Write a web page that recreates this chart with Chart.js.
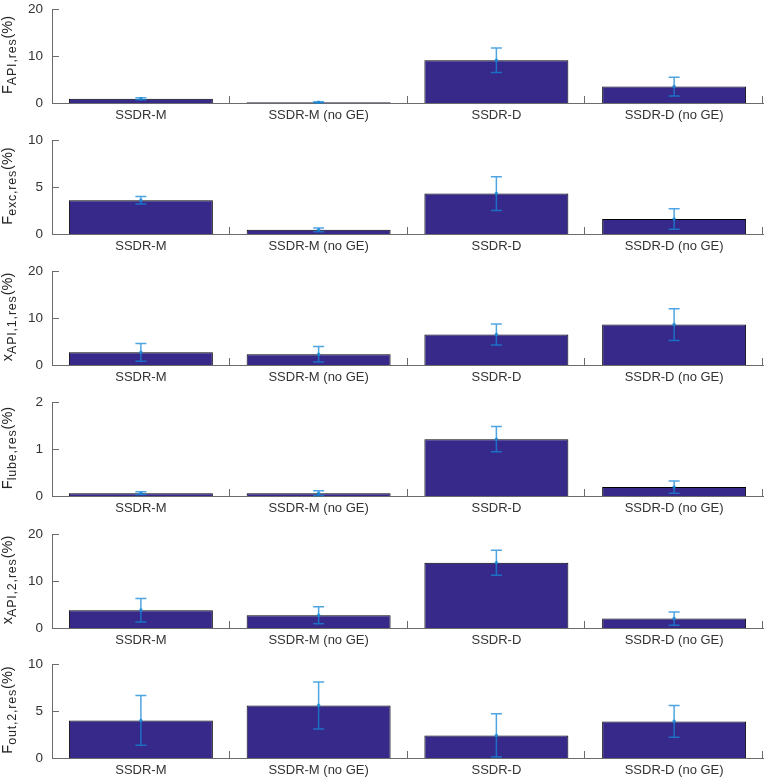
<!DOCTYPE html>
<html>
<head>
<meta charset="utf-8">
<script src="https://cdn.jsdelivr.net/npm/chart.js@4.4.1/dist/chart.umd.min.js"></script>
<style>
    html, body { margin: 0; padding: 0; background: #fff; overflow: hidden; }
    #wrap { position: relative; width: 767px; height: 783px; overflow: hidden; }
    #wrap canvas { position: absolute; left: 0; }
    .ylab {
        position: absolute; width: 140px; height: 20px; line-height: 20px;
        font: 14.5px "Liberation Sans", Arial, sans-serif; color: #262626;
        text-align: center; white-space: nowrap;
        transform: rotate(-90deg);
    }
    .ylab sub { font-size: 12.5px; letter-spacing: 0.8px; vertical-align: baseline; position: relative; top: 3.5px; }
</style>
</head>
<body>
<div id="wrap"></div>
<script>
// categories shared by every panel
const categories = ['SSDR-M', 'SSDR-M (no GE)', 'SSDR-D', 'SSDR-D (no GE)'];

// panel values (%) and error bar half-lengths
const fApiRes = [0.9, 0.15, 9.1, 3.5];
const fApiResErr = [0.2, 0.1, 2.6, 2.0];
const fExcRes = [3.6, 0.45, 4.3, 1.6];
const fExcResErr = [0.4, 0.2, 1.8, 1.1];
const xApi1Res = [2.7, 2.3, 6.5, 8.6];
const xApi1ResErr = [1.9, 1.65, 2.25, 3.4];
const fLubeRes = [0.06, 0.06, 1.21, 0.19];
const fLubeResErr = [0.03, 0.05, 0.27, 0.13];
const xApi2Res = [3.8, 2.7, 13.9, 2.0];
const xApi2ResErr = [2.5, 1.8, 2.65, 1.4];
const fOut2Res = [4.0, 5.6, 2.4, 3.9];
const fOut2ResErr = [2.65, 2.5, 2.3, 1.7];

// y axis upper limits and labels (symbol, subscript)
const yMax = [20, 10, 20, 2, 20, 10];
const yLabels = [['F', 'API,res'], ['F', 'exc,res'], ['x', 'API,1,res'], ['F', 'lube,res'], ['x', 'API,2,res'], ['F', 'out,2,res']];

const panels = [
    [fApiRes, fApiResErr], [fExcRes, fExcResErr], [xApi1Res, xApi1ResErr],
    [fLubeRes, fLubeResErr], [xApi2Res, xApi2ResErr], [fOut2Res, fOut2ResErr]
];
const plotTops = [9, 140, 271, 402, 534, 664];

const AXIS_COLOR = '#6b6b6b';
const BAR_COLOR = '#36298a';
const ERR_COLOR = 'rgba(20,135,215,0.75)';

// inward ticks + error bars, drawn after the bars
const decorations = {
    id: 'decorations',
    afterDatasetsDraw(chart, args, opts) {
        const ctx = chart.ctx;
        const xs = chart.scales.x, ys = chart.scales.y;
        const area = chart.chartArea;
        ctx.save();
        // ticks pointing into the plot
        ctx.strokeStyle = AXIS_COLOR;
        ctx.lineWidth = 1;
        ys.ticks.forEach(t => {
            const y = Math.round(ys.getPixelForValue(t.value)) + 0.5;
            ctx.beginPath();
            ctx.moveTo(area.left, y);
            ctx.lineTo(area.left + 7, y);
            ctx.stroke();
        });
        const half = (xs.getPixelForValue(1) - xs.getPixelForValue(0)) / 2;
        for (let i = 0; i < categories.length; i++) {
            const x = Math.round(xs.getPixelForValue(i) + half) - 0.5;
            ctx.beginPath();
            ctx.moveTo(x, area.bottom);
            ctx.lineTo(x, area.bottom - 7);
            ctx.stroke();
        }
        // error bars
        const vals = chart.data.datasets[0].data;
        const errs = opts.errors;
        ctx.strokeStyle = ERR_COLOR;
        ctx.fillStyle = ERR_COLOR;
        ctx.lineWidth = 1.5;
        vals.forEach((v, i) => {
            const x = xs.getPixelForValue(i);
            const yTop = ys.getPixelForValue(v + errs[i]);
            const yBot = ys.getPixelForValue(Math.max(0, v - errs[i]));
            ctx.beginPath();
            ctx.moveTo(x, yTop); ctx.lineTo(x, yBot);
            ctx.moveTo(x - 5.5, yTop); ctx.lineTo(x + 5.5, yTop);
            ctx.moveTo(x - 5.5, yBot); ctx.lineTo(x + 5.5, yBot);
            ctx.stroke();
            ctx.beginPath();
            ctx.arc(x, ys.getPixelForValue(v), 1.8, 0, Math.PI * 2);
            ctx.fill();
        });
        ctx.restore();
    }
};

const wrap = document.getElementById('wrap');

panels.forEach(([values, errors], k) => {
    const canvas = document.createElement('canvas');
    canvas.width = 767;
    canvas.height = 140;
    wrap.appendChild(canvas);

    const lab = document.createElement('div');
    lab.className = 'ylab';
    lab.innerHTML = `${yLabels[k][0]}<sub>${yLabels[k][1]}</sub>(%)`;
    lab.style.left = (9 - 70) + 'px';
    lab.style.top = (plotTops[k] + 46 - 10) + 'px';
    wrap.appendChild(lab);

    const chart = new Chart(canvas, {
        type: 'bar',
        data: {
            labels: categories,
            datasets: [{
                data: values,
                backgroundColor: BAR_COLOR,
                borderColor: '#000',
                borderWidth: 1,
                barPercentage: 0.81,
                categoryPercentage: 1
            }]
        },
        options: {
            responsive: false,
            animation: false,
            devicePixelRatio: 1,
            layout: { padding: { top: 0, right: 4, left: 0, bottom: 0 } },
            plugins: {
                legend: { display: false },
                tooltip: { enabled: false },
                decorations: { errors: errors }
            },
            scales: {
                x: {
                    offset: true,
                    grid: { display: false, drawTicks: false },
                    border: { display: true, color: AXIS_COLOR, width: 1 },
                    ticks: {
                        color: '#333',
                        padding: 5,
                        maxRotation: 0,
                        autoSkip: false,
                        font: { family: '"Liberation Sans", Arial, sans-serif', size: 13 }
                    },
                    afterFit: s => { s.height = 29; }
                },
                y: {
                    min: 0,
                    max: yMax[k],
                    grid: { display: false, drawTicks: false },
                    border: { display: true, color: AXIS_COLOR, width: 1 },
                    ticks: {
                        stepSize: yMax[k] / 2,
                        color: '#333',
                        padding: 9,
                        font: { family: '"Liberation Sans", Arial, sans-serif', size: 13.5 }
                    },
                    afterFit: s => { s.width = 52; }
                }
            }
        },
        plugins: [decorations]
    });
    // line the plot area up with the reference panel position
    canvas.style.top = (plotTops[k] - Math.round(chart.chartArea.top)) + 'px';
});
</script>
</body>
</html>
